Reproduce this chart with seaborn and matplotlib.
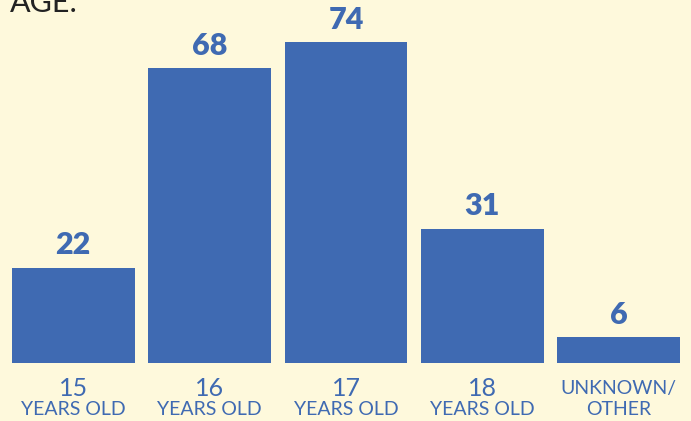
import matplotlib
matplotlib.use("Agg")
import matplotlib.pyplot as plt
import seaborn as sns
import pandas as pd

categories = ["15", "16", "17", "18", "UNKNOWN/"]
sublabels = ["YEARS OLD", "YEARS OLD", "YEARS OLD", "YEARS OLD", "OTHER"]
values = [22, 68, 74, 31, 6]

BG = "#FEF9DC"
BLUE = "#3F6AB2"

sns.set_theme(style="white")
plt.rcParams['font.family'] = ['Lato', 'DejaVu Sans']

df = pd.DataFrame({"cat": categories, "val": values})

fig = plt.figure(figsize=(6.91, 4.21), dpi=100, facecolor=BG)
ax = fig.add_axes([5/691, (421-363)/421, 682/691, 363/421])
ax.set_facecolor(BG)
sns.barplot(data=df, x="cat", y="val", color=BLUE, saturation=1, width=0.9,
            linewidth=0, edgecolor=BLUE, ax=ax)
for c in ax.containers:
    ax.bar_label(c, padding=6, fontsize=22, fontweight='heavy', color=BLUE)
ax.set_xlim(-0.5, 4.5)
ax.set_ylim(0, 74 * 363 / 321)
ax.set_xlabel("")
ax.set_ylabel("")
ax.set_xticks([])
ax.set_yticks([])
for s in ax.spines.values():
    s.set_visible(False)

for i, (a, b) in enumerate(zip(categories, sublabels)):
    ax.annotate(a, (i, 0), xytext=(0, -26/1.389), textcoords='offset points',
                ha='center', va='center', fontsize=18 if i < 4 else 14,
                fontweight='normal', color=BLUE, annotation_clip=False)
    ax.annotate(b, (i, 0), xytext=(0, -47/1.389), textcoords='offset points',
                ha='center', va='center', fontsize=14,
                fontweight='normal', color=BLUE, annotation_clip=False)

fig.text(10/691, 1 - 12/421, "AGE:", fontsize=22, color="#222222",
         ha='left', va='baseline', fontweight='normal')

fig.savefig("out.png", dpi=100, facecolor=BG)
